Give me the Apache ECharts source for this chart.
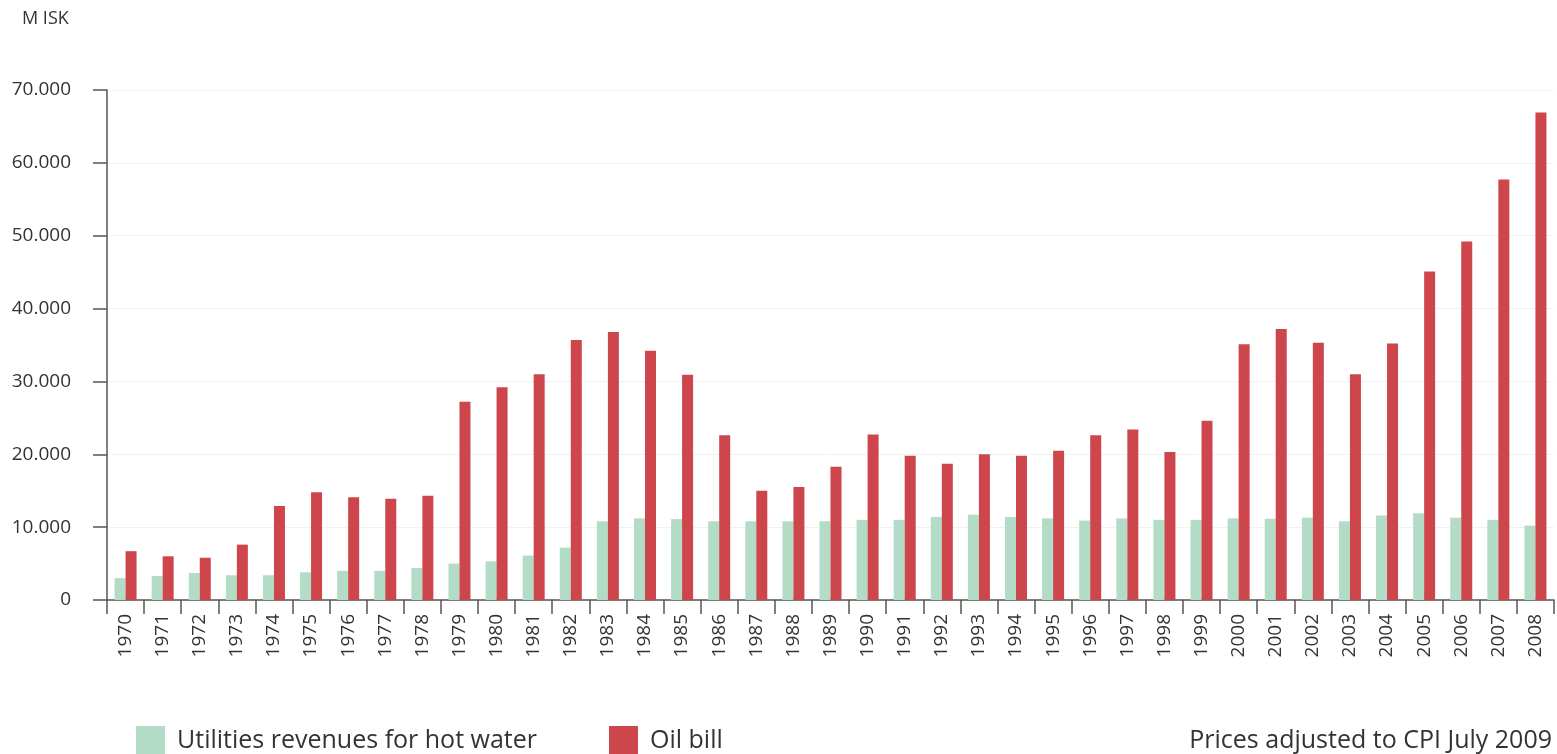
<!DOCTYPE html>
<html>
<head>
<meta charset="utf-8">
<script src="https://cdn.jsdelivr.net/npm/echarts@6/dist/echarts.min.js"></script>
<style>
  html, body { margin: 0; padding: 0; background: #fff; }
  #chart { width: 1557px; height: 754px; }
</style>
</head>
<body>
<div id="chart"></div>
<script>
// 年份
const years = [
  "1970", "1971", "1972", "1973", "1974", "1975", "1976", "1977", "1978", "1979",
  "1980", "1981", "1982", "1983", "1984", "1985", "1986", "1987", "1988", "1989",
  "1990", "1991", "1992", "1993", "1994", "1995", "1996", "1997", "1998", "1999",
  "2000", "2001", "2002", "2003", "2004", "2005", "2006", "2007", "2008"
];
// 热水收入 (M ISK)
const hotWater = [
  3000, 3300, 3700, 3400, 3400, 3800, 4000, 4000, 4400, 5000,
  5300, 6100, 7200, 10800, 11200, 11100, 10800, 10800, 10800, 10800,
  11000, 11000, 11400, 11700, 11400, 11200, 10900, 11200, 11000, 11000,
  11200, 11150, 11300, 10800, 11600, 11900, 11300, 11000, 10200
];
// 石油账单 (M ISK)
const oilBill = [
  6700, 6000, 5800, 7600, 12900, 14800, 14100, 13900, 14300, 27200,
  29200, 31000, 35700, 36800, 34200, 30900, 22600, 15000, 15500, 18300,
  22700, 19800, 18700, 20000, 19800, 20500, 22600, 23400, 20300, 24600,
  35100, 37200, 35300, 31000, 35200, 45100, 49200, 57700, 66900
];
const seriesNames = ["Utilities revenues for hot water", "Oil bill"];

const font = "'Open Sans', 'Noto Sans', sans-serif";
const textColor = "#333";
const axisColor = "#555";

const chart = echarts.init(document.getElementById("chart"));

const option = {
  backgroundColor: "#fff",
  animation: false,
  textStyle: { fontFamily: font },
  title: [
    {
      text: "M ISK",
      left: 17,
      top: 5,
      textStyle: { fontFamily: font, fontSize: 18, fontWeight: "normal", color: textColor }
    },
    {
      text: "Prices adjusted to CPI July 2009",
      right: 0,
      top: 723,
      textStyle: { fontFamily: font, fontSize: 25, fontWeight: "normal", color: textColor }
    }
  ],
  legend: {
    left: 136,
    top: 726,
    padding: 0,
    itemWidth: 29,
    itemHeight: 30,
    itemGap: 72,
    icon: "rect",
    textStyle: { fontFamily: font, fontSize: 25, color: textColor, padding: [0, 0, 0, 7] },
    data: seriesNames
  },
  grid: {
    left: 107,
    right: 3,
    top: 90,
    bottom: 154,
    containLabel: false
  },
  xAxis: {
    type: "category",
    data: years,
    boundaryGap: true,
    axisLine: { show: true, lineStyle: { color: axisColor, width: 1.5 } },
    axisTick: { show: true, length: 14, alignWithLabel: false, lineStyle: { color: axisColor, width: 1.5 } },
    axisLabel: {
      interval: 0,
      rotate: 90,
      margin: 14,
      fontFamily: font,
      fontSize: 19,
      color: textColor
    },
    splitLine: { show: false }
  },
  yAxis: {
    type: "value",
    min: 0,
    max: 70000,
    interval: 10000,
    axisLine: { show: true, lineStyle: { color: axisColor, width: 1.5 } },
    axisTick: { show: true, length: 14, lineStyle: { color: axisColor, width: 1.5 } },
    axisLabel: {
      margin: 36,
      fontFamily: font,
      fontSize: 19,
      color: textColor,
      formatter: function (v) {
        return v === 0 ? "0" : (v / 1000) + ".000";
      }
    },
    splitLine: { show: true, lineStyle: { color: "#f1f1f1", width: 1 } }
  },
  series: [
    {
      name: seriesNames[0],
      type: "bar",
      data: hotWater,
      barWidth: 11,
      barGap: "0%",
      itemStyle: { color: "#b2dcc5" }
    },
    {
      name: seriesNames[1],
      type: "bar",
      data: oilBill,
      barWidth: 11,
      barGap: "0%",
      itemStyle: { color: "#cc464b" }
    }
  ]
};

chart.setOption(option);
</script>
</body>
</html>
